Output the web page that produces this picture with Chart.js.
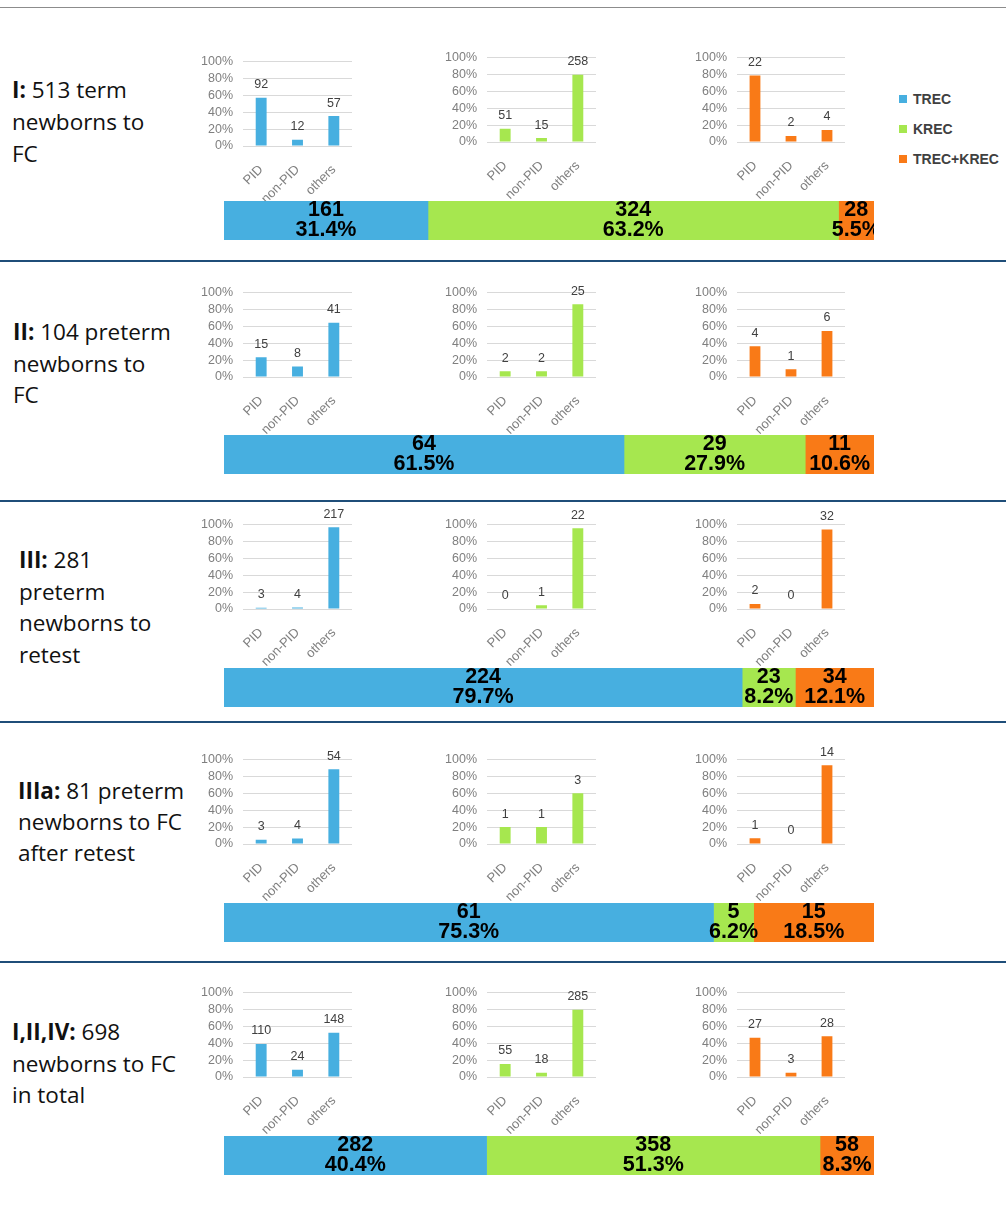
<!DOCTYPE html>
<html>
<head>
<meta charset="utf-8">
<script src="https://cdn.jsdelivr.net/npm/chart.js@4.4.0/dist/chart.umd.min.js"></script>
<style>
  body { margin: 0; background: #fff; }
  #page { position: relative; width: 1006px; height: 1212px; overflow: hidden; background: #fff; }
  .title { position: absolute; font-family: "Open Sans", sans-serif; font-size: 22.5px; color: #111; white-space: nowrap; }
  .title b { font-weight: 700; }
  .rule { position: absolute; left: 0; width: 1006px; height: 2px; background: #1f4e79; }
  .topline { position: absolute; left: 0; top: 7px; width: 1006px; height: 1px; background: #8c8c8c; }
  canvas { position: absolute; }
  .leg { position: absolute; left: 899px; font: bold 14px "Liberation Sans", Arial, sans-serif; color: #404040; white-space: nowrap; }
  .leg span { display: inline-block; width: 8px; height: 8px; margin-right: 6px; vertical-align: 1px; }
</style>
</head>
<body>
<div id="page">
  <div class="topline"></div>
</div>
<script>
// ---- data ----
const categories = ['PID', 'non-PID', 'others'];
const groups = ['TREC', 'KREC', 'TREC+KREC'];
const colors = ['#47afe0', '#a6e74f', '#f97a17'];

// counts per group (TREC, KREC, TREC+KREC), each over PID / non-PID / others
const countsI    = [[92, 12, 57],   [51, 15, 258], [22, 2, 4]];
const countsII   = [[15, 8, 41],    [2, 2, 25],    [4, 1, 6]];
const countsIII  = [[3, 4, 217],    [0, 1, 22],    [2, 0, 32]];
const countsIIIa = [[3, 4, 54],     [1, 1, 3],     [1, 0, 14]];
const countsAll  = [[110, 24, 148], [55, 18, 285], [27, 3, 28]];

// totals shown in the stacked bars
const totalsI    = [161, 324, 28];
const totalsII   = [64, 29, 11];
const totalsIII  = [224, 23, 34];
const totalsIIIa = [61, 5, 15];
const totalsAll  = [282, 358, 58];

const pctI    = ['31.4%', '63.2%', '5.5%'];
const pctII   = ['61.5%', '27.9%', '10.6%'];
const pctIII  = ['79.7%', '8.2%', '12.1%'];
const pctIIIa = ['75.3%', '6.2%', '18.5%'];
const pctAll  = ['40.4%', '51.3%', '8.3%'];

const titles = [
  '<b>I:</b> 513 term<br>newborns to<br>FC',
  '<b>II:</b> 104 preterm<br>newborns to<br>FC',
  '<b>III:</b> 281<br>preterm<br>newborns to<br>retest',
  '<b>IIIa:</b> 81 preterm<br>newborns to FC<br>after retest',
  '<b>I,II,IV:</b> 698<br>newborns to FC<br>in total'
];

// ---- layout ----
const panels = [
  { counts: countsI,    totals: totalsI,    pct: pctI,    title: { x: 12, y: 74,  lh: 32 },   plotTop: [56, 52, 52],    stackTop: 201 },
  { counts: countsII,   totals: totalsII,   pct: pctII,   title: { x: 13, y: 316, lh: 31.5 }, plotTop: [287, 287, 287], stackTop: 435 },
  { counts: countsIII,  totals: totalsIII,  pct: pctIII,  title: { x: 19, y: 544, lh: 31.5 }, plotTop: [519, 519, 519], stackTop: 668 },
  { counts: countsIIIa, totals: totalsIIIa, pct: pctIIIa, title: { x: 18, y: 775, lh: 31 },   plotTop: [754, 754, 754], stackTop: 903 },
  { counts: countsAll,  totals: totalsAll,  pct: pctAll,  title: { x: 12, y: 1016, lh: 31.5 }, plotTop: [987, 987, 987], stackTop: 1136 }
];
const plotX = [[243, 352], [487, 596], [737, 845]];
const plotH = 90;
const rules = [261, 501, 722, 962];

Chart.defaults.font.family = '"Liberation Sans", Arial, sans-serif';
const page = document.getElementById('page');

function addCanvas(left, top, w, h) {
  const cv = document.createElement('canvas');
  cv.width = w; cv.height = h;
  cv.style.left = left + 'px'; cv.style.top = top + 'px';
  cv.style.width = w + 'px'; cv.style.height = h + 'px';
  page.appendChild(cv);
  return cv;
}

function smallChart(x0, x1, yTop, counts, color) {
  const padTop = 12, padRight = 6, axisW = 50, axisH = 60;
  const cv = addCanvas(x0 - axisW, yTop - padTop, axisW + (x1 - x0) + padRight, padTop + plotH + axisH);
  const sum = counts.reduce((a, b) => a + b, 0);
  const share = counts.map(c => c / sum * 100);
  new Chart(cv, {
    type: 'bar',
    data: {
      labels: categories,
      datasets: [{ data: share, backgroundColor: color, borderWidth: 0, barPercentage: 0.3, categoryPercentage: 1 }]
    },
    options: {
      responsive: false, animation: false, devicePixelRatio: 1,
      layout: { padding: { top: padTop, right: padRight, left: 0, bottom: 0 } },
      scales: {
        x: {
          grid: { display: false }, border: { display: false },
          ticks: { color: '#7f7f7f', font: { size: 13 }, minRotation: 45, maxRotation: 45, padding: 8, autoSkip: false },
          afterFit: s => { s.height = axisH; }
        },
        y: {
          min: 0, max: 100,
          grid: { color: '#d9d9d9', drawTicks: false }, border: { display: false },
          ticks: { stepSize: 20, color: '#7f7f7f', font: { size: 12.5 }, padding: 10, autoSkip: false, callback: v => v + '%' },
          afterFit: s => { s.width = axisW; }
        }
      },
      plugins: { legend: { display: false }, tooltip: { enabled: false } }
    },
    plugins: [{
      id: 'countLabels',
      afterDatasetsDraw(chart) {
        const ctx = chart.ctx;
        ctx.save();
        ctx.font = '12.5px "Liberation Sans", Arial, sans-serif';
        ctx.fillStyle = '#404040';
        ctx.textAlign = 'center';
        ctx.textBaseline = 'middle';
        chart.getDatasetMeta(0).data.forEach((bar, i) => {
          ctx.fillText(String(counts[i]), bar.x, bar.y - 13);
        });
        ctx.restore();
      }
    }]
  });
}

function stackChart(top, totals, pct) {
  const cv = addCanvas(224, top, 650, 39);
  const sum = totals.reduce((a, b) => a + b, 0);
  new Chart(cv, {
    type: 'bar',
    data: {
      labels: [''],
      datasets: groups.map((g, i) => ({
        label: g, data: [totals[i]], backgroundColor: colors[i],
        borderWidth: 0, barPercentage: 1, categoryPercentage: 1
      }))
    },
    options: {
      indexAxis: 'y', responsive: false, animation: false, devicePixelRatio: 1,
      layout: { padding: 0 },
      scales: {
        x: { stacked: true, display: false, min: 0, max: sum },
        y: { stacked: true, display: false }
      },
      plugins: { legend: { display: false }, tooltip: { enabled: false } }
    },
    plugins: [{
      id: 'segmentLabels',
      afterDatasetsDraw(chart) {
        const ctx = chart.ctx;
        ctx.save();
        ctx.font = 'bold 21.5px "Liberation Sans", Arial, sans-serif';
        ctx.fillStyle = '#000';
        ctx.textAlign = 'center';
        ctx.textBaseline = 'middle';
        chart.data.datasets.forEach((ds, i) => {
          const el = chart.getDatasetMeta(i).data[0];
          const cx = (el.x + el.base) / 2;
          ctx.fillText(String(totals[i]), cx, el.y - 10);
          ctx.fillText(pct[i], cx, el.y + 10);
        });
        ctx.restore();
      }
    }]
  });
}

panels.forEach((p, i) => {
  const t = document.createElement('div');
  t.className = 'title';
  t.style.left = p.title.x + 'px';
  t.style.top = p.title.y + 'px';
  t.style.lineHeight = p.title.lh + 'px';
  t.innerHTML = titles[i];
  page.appendChild(t);
  p.counts.forEach((c, g) => smallChart(plotX[g][0], plotX[g][1], p.plotTop[g], c, colors[g]));
  stackChart(p.stackTop, p.totals, p.pct);
});

rules.forEach(y => {
  const r = document.createElement('div');
  r.className = 'rule';
  r.style.top = (y - 1) + 'px';
  page.appendChild(r);
});

// legend
[99, 129, 159].forEach((y, i) => {
  const l = document.createElement('div');
  l.className = 'leg';
  l.style.top = (y - 8) + 'px';
  l.innerHTML = '<span style="background:' + colors[i] + '"></span>' + groups[i];
  page.appendChild(l);
});
</script>
</body>
</html>
